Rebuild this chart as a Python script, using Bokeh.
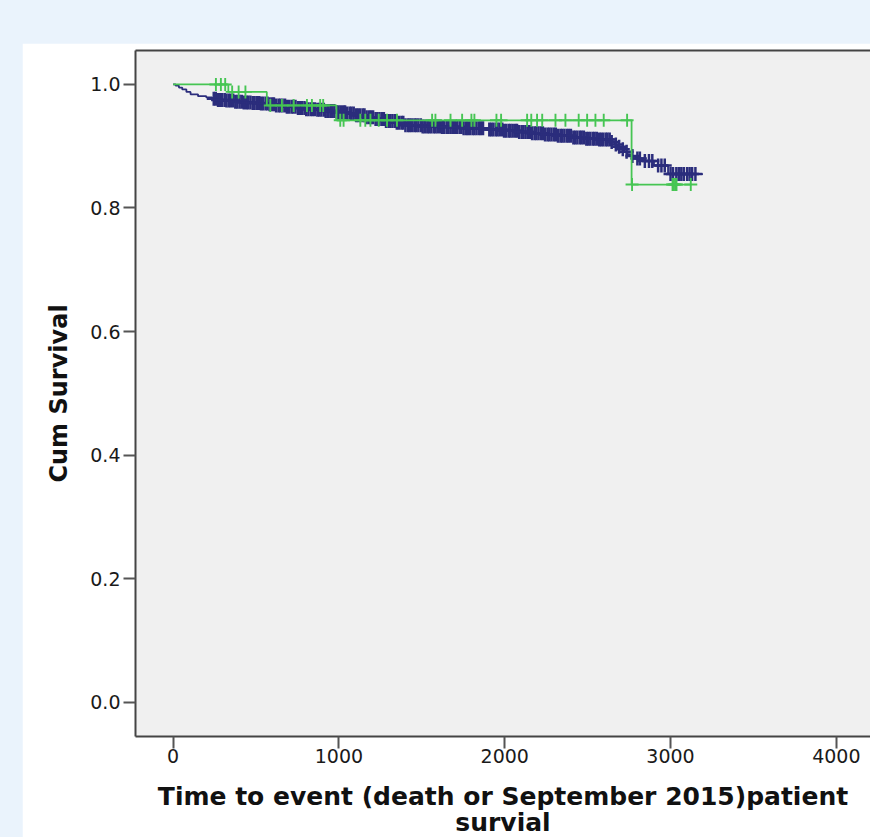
import numpy as np
from bokeh.plotting import figure
from bokeh.layouts import column
from bokeh.models import Range1d, LinearAxis, FixedTicker, NumeralTickFormatter
from bokeh.embed import file_html
from bokeh.resources import INLINE

# ---- data ----
x_ticks = [0, 1000, 2000, 3000, 4000]
y_ticks = [0.0, 0.2, 0.4, 0.6, 0.8, 1.0]

blue_event_time = [15, 35, 55, 80, 105, 150, 200, 235, 270, 320, 370, 420, 470, 520, 570,
                   620, 680, 740, 800, 860, 920, 980, 1040, 1100, 1160, 1220, 1280, 1340, 1400,
                   1500, 1620, 1750, 1880, 1990, 2080, 2160, 2240, 2320, 2400, 2480, 2560, 2640,
                   2660, 2680, 2700, 2720, 2740, 2760, 2790, 2830, 2900, 2985]
blue_event_surv = [0.998, 0.995, 0.992, 0.988, 0.984, 0.981, 0.979, 0.977, 0.975, 0.974, 0.972,
                   0.971, 0.970, 0.969, 0.968, 0.966, 0.964, 0.962, 0.960, 0.959, 0.957, 0.955,
                   0.953, 0.950, 0.947, 0.944, 0.941, 0.938, 0.934, 0.932, 0.931, 0.929, 0.927,
                   0.925, 0.923, 0.921, 0.919, 0.917, 0.914, 0.912, 0.911, 0.907, 0.903, 0.899,
                   0.895, 0.891, 0.887, 0.884, 0.880, 0.876, 0.869, 0.855]
blue_end_time = 3195
blue_censor_time = [
    245, 257, 271, 283, 296, 311, 322, 336, 348, 362, 375, 387, 401, 414, 426, 441, 452, 466,
    480, 491, 505, 519, 530, 543, 558, 569, 582, 597, 608, 621, 636, 647, 660, 675, 686, 699,
    714, 725, 738, 753, 764, 777, 792, 803, 816, 831, 842, 855, 870, 881, 894, 909, 920, 933,
    948, 959, 972, 987, 998, 1011, 1026, 1037, 1050, 1065, 1076, 1089, 1104, 1115, 1128, 1143,
    1154, 1167, 1182, 1193, 1206, 1221, 1232, 1245, 1260, 1271, 1284, 1299, 1310, 1323, 1338,
    1349, 1362, 1377, 1388, 1401, 1416, 1427, 1440, 1455, 1466, 1479, 1494, 1505, 1518, 1533,
    1544, 1557, 1572, 1583, 1596, 1611, 1622, 1635, 1650, 1661, 1674, 1689, 1700, 1713, 1728,
    1739, 1752, 1767, 1778, 1791, 1806, 1817, 1830, 1845, 1856, 1869, 1907, 1918, 1931, 1946,
    1957, 1970, 1985, 1996, 2009, 2024, 2035, 2048, 2063, 2074, 2087, 2102, 2113, 2126, 2141,
    2152, 2165, 2180, 2191, 2204, 2219, 2230, 2243, 2258, 2269, 2282, 2297, 2308, 2321, 2336,
    2347, 2360, 2375, 2386, 2399, 2414, 2425, 2438, 2453, 2464, 2477, 2492, 2503, 2516, 2531,
    2542, 2555, 2570, 2581, 2594, 2609, 2620, 2633,
    2645, 2670, 2690, 2712, 2735, 2770, 2800, 2815, 2845, 2870, 2890, 2925, 2945, 2965, 3000,
    3015, 3035, 3050, 3065, 3080, 3100, 3115, 3130, 3150]

green_event_time = [333, 565, 985, 2765]
green_event_surv = [0.988, 0.966, 0.942, 0.838]
green_end_time = 3122
green_censor_time = [258, 288, 314, 356, 395, 436, 586, 656, 727, 807, 837, 887, 905, 1008, 1028,
                     1129, 1159, 1190, 1240, 1290, 1350, 1562, 1582, 1673, 1743, 1799, 1817, 1950,
                     1978, 2135, 2160, 2195, 2226, 2306, 2366, 2446, 2497, 2547, 2597, 2738, 2768,
                     3012, 3020, 3028, 3036, 3122]

BLUE = "#2B2D7C"
GREEN = "#46C553"


def km_path(times, surv, end):
    xs = [0] + list(times) + [end]
    ys = [1.0] + list(surv) + [surv[-1]]
    return xs, ys


def km_at(times, surv, t):
    t_arr = np.asarray(times)
    s_arr = np.concatenate([[1.0], np.asarray(surv)])
    idx = np.searchsorted(t_arr, np.asarray(t), side="right")
    return s_arr[idx]


p = figure(width=848, height=798,
           x_range=Range1d(-227, 4206), y_range=Range1d(-0.0557, 1.055),
           output_backend="svg", toolbar_location=None,
           min_border_left=113, min_border_right=0, min_border_top=7, min_border_bottom=105,
           background_fill_color="#F0F0F0", border_fill_color="white",
           outline_line_color=None)
p.margin = (43, 0, 0, 22)
p.grid.visible = False

# blue group
bx, by = km_path(blue_event_time, blue_event_surv, blue_end_time)
p.step(bx, by, mode="after", line_color=BLUE, line_width=1.8)
p.scatter(blue_censor_time, km_at(blue_event_time, blue_event_surv, blue_censor_time),
          marker="cross", size=14, line_color=BLUE, line_width=2.5)

# green group
gx, gy = km_path(green_event_time, green_event_surv, green_end_time)
p.step(gx, gy, mode="after", line_color=GREEN, line_width=1.8)
p.scatter(green_censor_time, km_at(green_event_time, green_event_surv, green_censor_time),
          marker="cross", size=13, line_color=GREEN, line_width=1.9)

FONT = "DejaVu Sans"

xa = p.xaxis[0]
xa.ticker = FixedTicker(ticks=x_ticks)
xa.axis_label = "Time to event (death or September 2015)patient\nsurvial"
xa.axis_label_text_font = FONT
xa.axis_label_text_font_style = "bold"
xa.axis_label_text_font_size = "25px"
xa.axis_label_text_line_height = 0.9
xa.axis_label_text_color = "#111111"
xa.axis_label_standoff = 16
xa.major_label_text_font = FONT
xa.major_label_text_font_size = "19px"
xa.major_label_text_color = "#1a1a1a"
xa.major_label_standoff = 0
xa.major_tick_out = 12
xa.major_tick_in = 0
xa.minor_tick_out = 0
xa.minor_tick_in = 0
xa.major_tick_line_color = "#555555"
xa.major_tick_line_width = 2
xa.axis_line_color = "#444444"
xa.axis_line_width = 2

ya = p.yaxis[0]
ya.ticker = FixedTicker(ticks=y_ticks)
ya.formatter = NumeralTickFormatter(format="0.0")
ya.axis_label = "Cum Survival"
ya.axis_label_text_font = FONT
ya.axis_label_text_font_style = "bold"
ya.axis_label_text_font_size = "24px"
ya.axis_label_text_color = "#111111"
ya.axis_label_standoff = 14
ya.major_label_text_font = FONT
ya.major_label_text_font_size = "19px"
ya.major_label_text_color = "#1a1a1a"
ya.major_label_standoff = 3
ya.major_tick_out = 12
ya.major_tick_in = 0
ya.minor_tick_out = 0
ya.minor_tick_in = 0
ya.major_tick_line_color = "#555555"
ya.major_tick_line_width = 2
ya.axis_line_color = "#444444"
ya.axis_line_width = 2

top = LinearAxis(ticker=FixedTicker(ticks=[]), axis_line_color="#444444", axis_line_width=2,
                 major_tick_out=0, major_tick_in=0, minor_tick_out=0, minor_tick_in=0)
p.add_layout(top, "above")

layout = column(p, width=870, height=837,
                styles={"background-color": "#EAF3FC", "overflow": "hidden"})

open("out.html", "w").write(file_html(layout, INLINE))
